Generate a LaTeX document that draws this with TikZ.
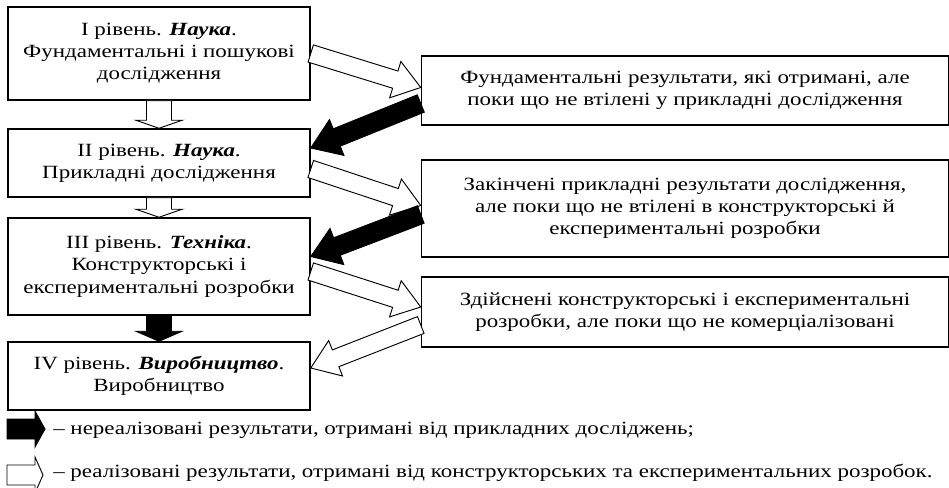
\documentclass[tikz,border=0pt]{standalone}
\usepackage{fontspec}
\setmainfont{Liberation Serif}[FakeStretch=1.23]
\usetikzlibrary{calc}

\tikzset{
	lvlbox/.style={draw, line width=1.1pt, minimum width=226.5pt, align=center, inner sep=1pt},
	resbox/.style={draw, line width=1.1pt, minimum width=395.25pt, align=center, inner sep=1pt},
	whitearr/.style={draw, fill=white, line width=0.7pt, line join=miter},
	blackarr/.style={draw, fill=black, line width=0.7pt, line join=miter},
	legtext/.style={anchor=base west, inner sep=0pt}
}

% block arrow: style, from, to, shaft width, head width, head length
\newcommand{\blockarrow}[6][]{%
	\draw[#1] let \p1=($(#3)-(#2)$), \n1={veclen(\x1,\y1)}, \n2={atan2(\y1,\x1)} in
		{[shift={(#2)}, rotate=\n2]
		(0pt,{#4/2}) -- ({\n1*1pt-#6},{#4/2}) -- ({\n1*1pt-#6},{#5/2}) -- ({\n1*1pt},0pt)
		-- ({\n1*1pt-#6},{-#5/2}) -- ({\n1*1pt-#6},{-#4/2}) -- (0pt,{-#4/2}) -- cycle};}

\begin{document}
\begin{tikzpicture}[x=0.75pt, y=-0.75pt, font=\fontsize{14}{16.5}\selectfont]
	\useasboundingbox (0,0) rectangle (949,487);

	\node[lvlbox, minimum height=69.75pt] (lvlI) at (159,53.5)
		{I рівень. \textbf{\textit{Наука}}.\\Фундаментальні і пошукові\\дослідження};
	\node[lvlbox, minimum height=51pt] (lvlII) at (159,163)
		{II рівень. \textbf{\textit{Наука}}.\\Прикладні дослідження};
	\node[lvlbox, minimum height=72.75pt] (lvlIII) at (159,266.5)
		{III рівень. \textbf{\textit{Техніка}}.\\Конструкторські і\\експериментальні розробки};
	\node[lvlbox, minimum height=51pt] (lvlIV) at (159,376)
		{IV рівень. \textbf{\textit{Виробництво}}.\\Виробництво};

	\node[resbox, minimum height=51.75pt] (resI) at (685,90.5)
		{Фундаментальні результати, які отримані, але\\поки що не втілені у прикладні дослідження};
	\node[resbox, minimum height=72.75pt] (resII) at (685,208.5)
		{Закінчені прикладні результати дослідження,\\але поки що не втілені в конструкторські й\\експериментальні розробки};
	\node[resbox, minimum height=52.5pt] (resIII) at (685,312)
		{Здійснені конструкторські і експериментальні\\розробки, але поки що не комерціалізовані};

	\coordinate (w1a) at (lvlI.east);
	\coordinate (w1b) at ($(resI.west)+(0,-3)$);
	\coordinate (k1a) at ($(resI.west)+(0,13)$);
	\coordinate (k1b) at ($(lvlII.east)+(0,-15)$);
	\coordinate (w2a) at ($(lvlII.east)+(0,6)$);
	\coordinate (w2b) at ($(resII.west)+(0,-3)$);
	\coordinate (k2a) at ($(resII.west)+(0,6)$);
	\coordinate (k2b) at ($(lvlIII.east)+(0,-10)$);
	\coordinate (w3a) at ($(lvlIII.east)+(0,5)$);
	\coordinate (w3b) at ($(resIII.west)+(0,-5)$);
	\coordinate (w4a) at ($(resIII.west)+(0,13)$);
	\coordinate (w4b) at ($(lvlIV.east)+(0,-8)$);

	\blockarrow[whitearr]{lvlI.south}{lvlII.north}{18.75pt}{34.5pt}{6pt}
	\blockarrow[whitearr]{lvlII.south}{lvlIII.north}{18.75pt}{34.5pt}{6pt}
	\blockarrow[blackarr]{lvlIII.south}{lvlIV.north}{18.75pt}{34.5pt}{7.5pt}

	\blockarrow[whitearr]{w1a}{w1b}{13.5pt}{28.5pt}{20pt}
	\blockarrow[blackarr]{k1a}{k1b}{14pt}{29pt}{21pt}
	\blockarrow[whitearr]{w2a}{w2b}{13.5pt}{28.5pt}{20pt}
	\blockarrow[blackarr]{k2a}{k2b}{14pt}{29pt}{21pt}
	\blockarrow[whitearr]{w3a}{w3b}{13.5pt}{28.5pt}{20pt}
	\blockarrow[whitearr]{w4a}{w4b}{13.5pt}{28.5pt}{20pt}

	% legend
	\coordinate (legKa) at (7,429);
	\coordinate (legKb) at (45,429);
	\coordinate (legWa) at (7,475);
	\coordinate (legWb) at (43,475);
	\blockarrow[blackarr]{legKa}{legKb}{15pt}{27pt}{7.5pt}
	\blockarrow[whitearr]{legWa}{legWb}{15pt}{27pt}{6pt}
	\node[legtext] (legK) at (53,434) {– нереалізовані результати, отримані від прикладних досліджень;};
	\node[legtext] (legW) at (53,477) {– реалізовані результати, отримані від конструкторських та експериментальних розробок.};
\end{tikzpicture}
\end{document}
